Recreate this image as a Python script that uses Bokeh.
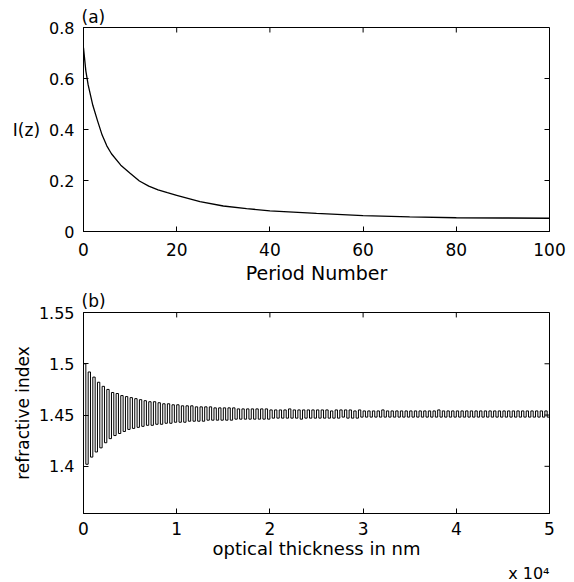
from bokeh.plotting import figure
from bokeh.models import Range1d, FixedTicker, Title
from bokeh.layouts import column
from bokeh.embed import file_html
from bokeh.resources import INLINE

# ---------------- data ----------------
# (a) I(z) versus period number
period_number = [0, 0.5, 1, 2, 3, 4, 5, 6, 8, 10, 12, 14, 16, 18, 20,
                 25, 30, 35, 40, 45, 50, 60, 70, 80, 90, 100]
intensity = [0.72, 0.63, 0.575, 0.495, 0.435, 0.378, 0.336, 0.305, 0.26, 0.228,
             0.198, 0.178, 0.163, 0.152, 0.142, 0.117, 0.100, 0.090, 0.081, 0.076,
             0.071, 0.062, 0.057, 0.054, 0.053, 0.052]

# (b) refractive index profile: high / low layer index for each of 100 periods
period_thickness_nm = 500
n_high = [1.500, 1.492, 1.487, 1.482, 1.478, 1.475, 1.472, 1.471, 1.469, 1.468,
          1.467, 1.466, 1.465, 1.464, 1.463, 1.463, 1.462, 1.461, 1.461, 1.460,
          1.460, 1.459, 1.459, 1.459, 1.458, 1.458, 1.458, 1.458, 1.457, 1.457,
          1.457, 1.457, 1.457, 1.456, 1.456, 1.456, 1.456, 1.456, 1.456, 1.456,
          1.455, 1.455, 1.455, 1.455, 1.456, 1.455, 1.455, 1.455, 1.455, 1.455,
          1.455, 1.455, 1.455, 1.454, 1.455, 1.455, 1.455, 1.455, 1.454, 1.455,
          1.454, 1.454, 1.454, 1.454, 1.455, 1.454, 1.454, 1.454, 1.454, 1.454,
          1.454, 1.454, 1.454, 1.454, 1.454, 1.454, 1.455, 1.454, 1.454, 1.454,
          1.454, 1.454, 1.454, 1.454, 1.454, 1.454, 1.454, 1.454, 1.454, 1.454,
          1.454, 1.454, 1.454, 1.454, 1.454, 1.454, 1.454, 1.454, 1.454, 1.454]
n_low = [1.402, 1.409, 1.414, 1.418, 1.423, 1.427, 1.430, 1.432, 1.434, 1.436,
         1.437, 1.438, 1.439, 1.440, 1.440, 1.441, 1.441, 1.442, 1.442, 1.443,
         1.443, 1.443, 1.444, 1.444, 1.444, 1.444, 1.445, 1.445, 1.445, 1.445,
         1.445, 1.445, 1.446, 1.446, 1.446, 1.446, 1.446, 1.446, 1.446, 1.446,
         1.447, 1.447, 1.447, 1.447, 1.447, 1.447, 1.446, 1.447, 1.447, 1.447,
         1.447, 1.447, 1.447, 1.447, 1.447, 1.448, 1.447, 1.447, 1.447, 1.448,
         1.448, 1.448, 1.448, 1.448, 1.448, 1.448, 1.448, 1.448, 1.448, 1.448,
         1.448, 1.448, 1.448, 1.448, 1.448, 1.448, 1.448, 1.448, 1.448, 1.448,
         1.448, 1.448, 1.448, 1.448, 1.448, 1.448, 1.448, 1.448, 1.448, 1.448,
         1.448, 1.448, 1.448, 1.448, 1.448, 1.448, 1.448, 1.448, 1.448, 1.448]

top_xticks = [0, 20, 40, 60, 80, 100]
top_yticks = [0, 0.2, 0.4, 0.6, 0.8]
top_ytick_labels = {0: "0", 0.2: "0.2", 0.4: "0.4", 0.6: "0.6", 0.8: "0.8"}
bot_xticks = [0, 10000, 20000, 30000, 40000, 50000]
bot_xtick_labels = {0: "0", 10000: "1", 20000: "2", 30000: "3", 40000: "4", 50000: "5"}
bot_yticks = [1.4, 1.45, 1.5, 1.55]
bot_ytick_labels = {1.4: "1.4", 1.45: "1.45", 1.5: "1.5", 1.55: "1.55"}

FONT = "DejaVu Sans"
TICK_PX = 5


def style_axis(ax, ticks, font_size, standoff, overrides=None):
    ax.ticker = FixedTicker(ticks=ticks)
    ax.major_tick_in = TICK_PX
    ax.major_tick_out = 0
    ax.minor_tick_in = 0
    ax.minor_tick_out = 0
    ax.axis_line_color = "black"
    ax.major_tick_line_color = "black"
    ax.major_label_text_font = FONT
    ax.major_label_text_color = "black"
    ax.major_label_text_font_size = font_size
    ax.major_label_standoff = standoff
    if overrides:
        ax.major_label_overrides = overrides


def style_label(ax, text, size, standoff):
    ax.axis_label = text
    ax.axis_label_text_font = FONT
    ax.axis_label_text_font_size = size
    ax.axis_label_text_font_style = "normal"
    ax.axis_label_text_color = "black"
    ax.axis_label_standoff = standoff


def base_fig(h, x0, x1, y0, y1, bl, br, bt, bb, title, title_standoff):
    p = figure(width=574, height=h, x_range=Range1d(x0, x1), y_range=Range1d(y0, y1),
               output_backend="svg", toolbar_location=None,
               min_border_left=bl, min_border_right=br,
               min_border_top=bt, min_border_bottom=bb,
               background_fill_color="white", border_fill_color="white",
               outline_line_color="black")
    p.xgrid.visible = False
    p.ygrid.visible = False
    p.title.text = title
    p.title.align = "left"
    p.title.text_font = FONT
    p.title.text_font_size = "17px"
    p.title.text_font_style = "normal"
    p.title.text_color = "black"
    p.title.standoff = title_standoff
    p.title.offset = -2
    # box-style inward ticks on the right and top edges
    fw = 574 - bl - br
    fh = h - bt - bb
    dx = (x1 - x0) * TICK_PX / fw
    dy = (y1 - y0) * TICK_PX / fh
    return p, dx, dy


# ---------------- (a) ----------------
p1, dx1, dy1 = base_fig(287, 0, 100, 0, 0.8, 82, 25, 27, 56, "(a)", 2)
p1.line(period_number, intensity, line_color="black", line_width=1.3)
style_axis(p1.xaxis[0], top_xticks, "17px", 11)
style_axis(p1.yaxis[0], top_yticks, "16px", 9, overrides=top_ytick_labels)
style_label(p1.xaxis[0], "Period Number", "19px", 3)
style_label(p1.yaxis[0], "I(z)", "17px", 6)
try:
    p1.yaxis[0].axis_label_orientation = "horizontal"
except Exception:
    pass
p1.segment(x0=[100 - dx1] * len(top_yticks), x1=[100] * len(top_yticks),
           y0=top_yticks, y1=top_yticks, line_color="black", line_width=1)
p1.segment(x0=top_xticks, x1=top_xticks, y0=[0.8 - dy1] * len(top_xticks),
           y1=[0.8] * len(top_xticks), line_color="black", line_width=1)

# ---------------- (b) ----------------
xs, ys = [], []
for k in range(len(n_high)):
    x0 = k * period_thickness_nm
    xs += [x0, x0 + period_thickness_nm / 2]
    ys += [n_high[k], n_low[k]]
xs.append(len(n_high) * period_thickness_nm)
ys.append(n_low[-1])

p2, dx2, dy2 = base_fig(295, 0, 50000, 1.354, 1.55, 83, 23, 23, 68, "(b)", 3)
p2.step(xs, ys, mode="after", line_color="black", line_width=1.0)
style_axis(p2.xaxis[0], bot_xticks, "17px", 8, overrides=bot_xtick_labels)
style_axis(p2.yaxis[0], bot_yticks, "16px", 9, overrides=bot_ytick_labels)
style_label(p2.xaxis[0], "optical thickness in nm", "18px", 0)
style_label(p2.yaxis[0], "refractive index", "17px", 3)
p2.segment(x0=[50000 - dx2] * len(bot_yticks), x1=[50000] * len(bot_yticks),
           y0=bot_yticks, y1=bot_yticks, line_color="black", line_width=1)
p2.segment(x0=bot_xticks, x1=bot_xticks, y0=[1.55 - dy2] * len(bot_xticks),
           y1=[1.55] * len(bot_xticks), line_color="black", line_width=1)

scale_note = Title(text="x 10\u2074", align="right", text_font=FONT, text_font_size="16px",
                   text_font_style="normal", text_color="black", standoff=0, offset=0)
p2.add_layout(scale_note, "below")

layout = column(p1, p2, spacing=0)
open("out.html", "w").write(file_html(layout, INLINE))
